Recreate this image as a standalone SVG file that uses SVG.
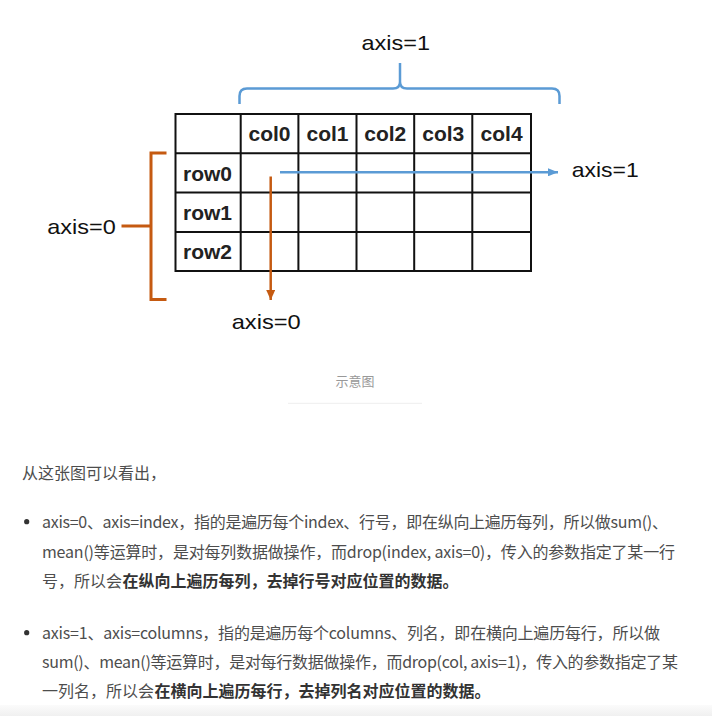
<svg xmlns="http://www.w3.org/2000/svg" width="712" height="716" viewBox="0 0 712 716">
<style>
.cell{font-family:"Liberation Sans",Arial,sans-serif;font-weight:bold;font-size:21px;fill:#222}
.axl{font-family:"Liberation Sans",Arial,sans-serif;font-size:21px;fill:#111}
.grid{stroke:#111;stroke-width:2;fill:none}
.blue{stroke:#5B9BD5;stroke-width:2.5;fill:none}
.orange{stroke:#C55A11;stroke-width:3;fill:none}
.body{font-family:"Noto Sans CJK SC","Noto Sans",sans-serif;font-size:16px;fill:#4d4d4d}
.bold{font-family:"Noto Sans CJK SC","Noto Sans",sans-serif;font-size:16px;font-weight:bold;fill:#333}
.cap{font-family:"Noto Sans CJK SC",sans-serif;font-size:13px;fill:#999}
</style>
<defs>
<marker id="ab" markerWidth="10" markerHeight="8" refX="10" refY="4" orient="auto" markerUnits="userSpaceOnUse"><path d="M0,0 L10,4 L0,8 Z" fill="#5B9BD5"/></marker>
<marker id="ao" markerWidth="10" markerHeight="9" refX="10" refY="4.5" orient="auto" markerUnits="userSpaceOnUse"><path d="M0,0 L10,4.5 L0,9 Z" fill="#C55A11"/></marker>
<linearGradient id="bg" x1="0" y1="0" x2="0" y2="1"><stop offset="0" stop-color="#fbfbfb"/><stop offset="1" stop-color="#f0f0f0"/></linearGradient>
</defs>
<rect width="712" height="716" fill="#fff"/>
<g id="table">
<rect class="grid" x="175.5" y="114" width="355.5" height="157"/>
<path class="grid" d="M175.5,153.3H531M175.5,192.5H531M175.5,232H531M240.7,114V271M298.4,114V271M356.5,114V271M414.2,114V271M472.3,114V271"/>
<text class="cell" x="269.5" y="140.7" text-anchor="middle">col0</text>
<text class="cell" x="327.5" y="140.7" text-anchor="middle">col1</text>
<text class="cell" x="385.3" y="140.7" text-anchor="middle">col2</text>
<text class="cell" x="443.3" y="140.7" text-anchor="middle">col3</text>
<text class="cell" x="501.6" y="140.7" text-anchor="middle">col4</text>
<text class="cell" x="183" y="180.5">row0</text>
<text class="cell" x="183" y="220">row1</text>
<text class="cell" x="183" y="259">row2</text>
</g>
<g id="brace-axis1">
<path class="blue" d="M239.5,104V96Q239.5,88.5 247,88.5H393Q400,88.5 400,82M400,63V82Q400,88.5 407,88.5H552Q559.5,88.5 559.5,96V104"/>
<text class="axl" x="361.5" y="50" textLength="68.5" lengthAdjust="spacingAndGlyphs">axis=1</text>
</g>
<g id="bracket-axis0">
<path class="orange" d="M166.5,153H151V299.5H166.5M121.5,226H151"/>
<text class="axl" x="47.3" y="234" textLength="68.5" lengthAdjust="spacingAndGlyphs">axis=0</text>
</g>
<g id="connectors">
<line class="blue" x1="280" y1="172.3" x2="558" y2="172.3" marker-end="url(#ab)"/>
<line class="orange" style="stroke-width:2.5" x1="270.7" y1="176.5" x2="270.7" y2="300" marker-end="url(#ao)"/>
</g>
<g id="label-row-axis1">
<text class="axl" x="571.7" y="176.5" textLength="67" lengthAdjust="spacingAndGlyphs">axis=1</text>
</g>
<g id="label-col-axis0">
<text class="axl" x="231.7" y="329.3" textLength="69" lengthAdjust="spacingAndGlyphs">axis=0</text>
</g>
<g id="caption">
<text class="cap" x="355" y="385.5" text-anchor="middle">示意图</text>
<line x1="288" y1="403.3" x2="422" y2="403.3" stroke="#eeeeee" stroke-width="1"/>
</g>
<g id="body-text">
<text class="body" x="22" y="479">从这张图可以看出，</text>
<circle cx="26.7" cy="521.7" r="2.6" fill="#333"/>
<text class="body" x="42" y="528" textLength="626" lengthAdjust="spacing">axis=0、axis=index，指的是遍历每个index、行号，即在纵向上遍历每列，所以做sum()、</text>
<text class="body" x="42" y="558" textLength="633" lengthAdjust="spacing">mean()等运算时，是对每列数据做操作，而drop(index, axis=0)，传入的参数指定了某一行</text>
<text class="body" x="42" y="587">号，所以会</text>
<text class="bold" x="122.5" y="587">在纵向上遍历每列，去掉行号对应位置的数据。</text>
<circle cx="26.7" cy="632.7" r="2.6" fill="#333"/>
<text class="body" x="42" y="639" textLength="618" lengthAdjust="spacing">axis=1、axis=columns，指的是遍历每个columns、列名，即在横向上遍历每行，所以做</text>
<text class="body" x="42" y="668" textLength="636" lengthAdjust="spacing">sum()、mean()等运算时，是对每行数据做操作，而drop(col, axis=1)，传入的参数指定了某</text>
<text class="body" x="42" y="697">一列名，所以会</text>
<text class="bold" x="154.5" y="697">在横向上遍历每行，去掉列名对应位置的数据。</text>
</g>
<rect x="0" y="705" width="712" height="11" fill="url(#bg)"/>
</svg>
